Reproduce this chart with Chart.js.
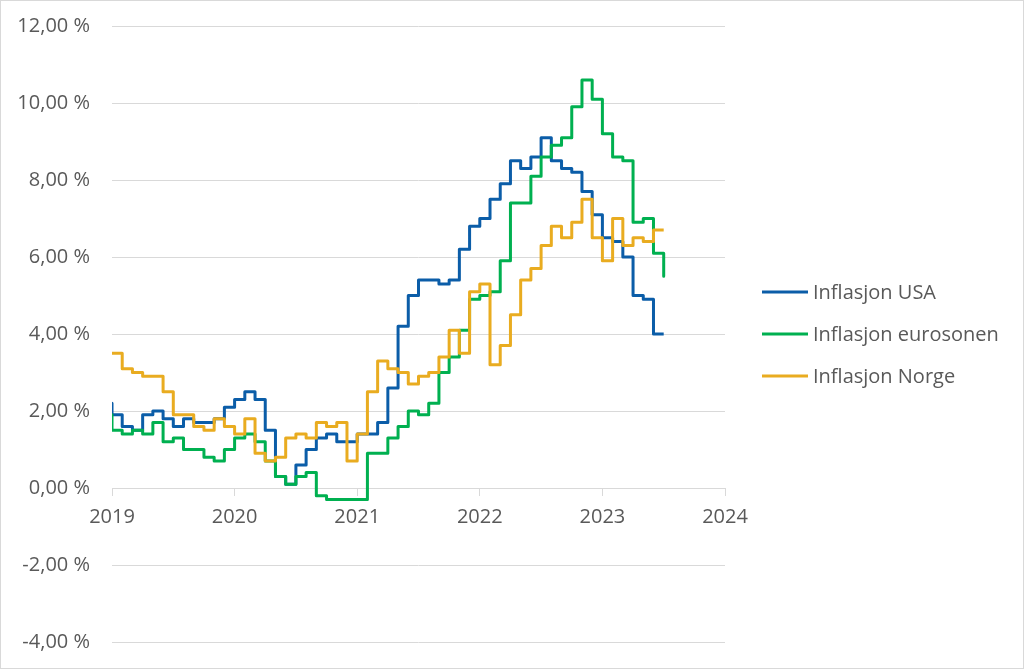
<!DOCTYPE html>
<html>
<head>
<meta charset="utf-8">
<script src="https://cdn.jsdelivr.net/npm/chart.js@4/dist/chart.umd.min.js"></script>
<style>
  html, body { margin: 0; padding: 0; background: #fff; }
  #wrap { width: 1024px; height: 669px; }
</style>
</head>
<body>
<div id="wrap"><canvas id="inflChart" width="1024" height="669"></canvas></div>
<script>
// monthly 12-month inflation, from Nov 2018 (first value only sets the starting step)
const months = [
  '2018-11', '2018-12',
  '2019-01', '2019-02', '2019-03', '2019-04', '2019-05', '2019-06', '2019-07', '2019-08', '2019-09', '2019-10', '2019-11', '2019-12',
  '2020-01', '2020-02', '2020-03', '2020-04', '2020-05', '2020-06', '2020-07', '2020-08', '2020-09', '2020-10', '2020-11', '2020-12',
  '2021-01', '2021-02', '2021-03', '2021-04', '2021-05', '2021-06', '2021-07', '2021-08', '2021-09', '2021-10', '2021-11', '2021-12',
  '2022-01', '2022-02', '2022-03', '2022-04', '2022-05', '2022-06', '2022-07', '2022-08', '2022-09', '2022-10', '2022-11', '2022-12',
  '2023-01', '2023-02', '2023-03', '2023-04', '2023-05', '2023-06'
];
const usa = [
  2.2, 1.9,
  1.6, 1.5, 1.9, 2.0, 1.8, 1.6, 1.8, 1.7, 1.7, 1.8, 2.1, 2.3,
  2.5, 2.3, 1.5, 0.3, 0.1, 0.6, 1.0, 1.3, 1.4, 1.2, 1.2, 1.4,
  1.4, 1.7, 2.6, 4.2, 5.0, 5.4, 5.4, 5.3, 5.4, 6.2, 6.8, 7.0,
  7.5, 7.9, 8.5, 8.3, 8.6, 9.1, 8.5, 8.3, 8.2, 7.7, 7.1, 6.5,
  6.4, 6.0, 5.0, 4.9, 4.0, null
];
const euro = [
  1.9, 1.5,
  1.4, 1.5, 1.4, 1.7, 1.2, 1.3, 1.0, 1.0, 0.8, 0.7, 1.0, 1.3,
  1.4, 1.2, 0.7, 0.3, 0.1, 0.3, 0.4, -0.2, -0.3, -0.3, -0.3, -0.3,
  0.9, 0.9, 1.3, 1.6, 2.0, 1.9, 2.2, 3.0, 3.4, 4.1, 4.9, 5.0,
  5.1, 5.9, 7.4, 7.4, 8.1, 8.6, 8.9, 9.1, 9.9, 10.6, 10.1, 9.2,
  8.6, 8.5, 6.9, 7.0, 6.1, 5.5
];
const norge = [
  3.5, 3.5,
  3.1, 3.0, 2.9, 2.9, 2.5, 1.9, 1.9, 1.6, 1.5, 1.8, 1.6, 1.4,
  1.8, 0.9, 0.7, 0.8, 1.3, 1.4, 1.3, 1.7, 1.6, 1.7, 0.7, 1.4,
  2.5, 3.3, 3.1, 3.0, 2.7, 2.9, 3.0, 3.4, 4.1, 3.5, 5.1, 5.3,
  3.2, 3.7, 4.5, 5.4, 5.7, 6.3, 6.8, 6.5, 6.9, 7.5, 6.5, 5.9,
  7.0, 6.3, 6.5, 6.4, 6.7, null
];
const seriesNames = ['Inflasjon USA', 'Inflasjon eurosonen', 'Inflasjon Norge'];
const seriesColors = ['#0B5DA8', '#00B050', '#E9AC20'];
const yTicks = [-4, -2, 0, 2, 4, 6, 8, 10, 12];
const xYears = [2019, 2020, 2021, 2022, 2023, 2024];

// each month's value runs from the start of the following month (as in the excel sheet)
function monthStart(m) {
    const p = m.split('-');
    return Number(p[0]) + Number(p[1]) / 12;
}

// step line built the excel way: two points per date
function stepPoints(vals) {
    const pts = [];
    for (let i = 1; i < months.length; i++) {
        const t = monthStart(months[i]);
        if (vals[i - 1] != null) pts.push({x: t, y: vals[i - 1]});
        if (vals[i] != null) pts.push({x: t, y: vals[i]});
    }
    return pts;
}

const allSeries = [usa, euro, norge];
const txt = '#595959';
const grid = '#D9D9D9';
const fontFam = '"Open Sans", "Noto Sans", sans-serif';

const sideLegend = {
    id: 'sideLegend',
    afterDraw(chart) {
        const ctx = chart.ctx;
        const mid = (chart.chartArea.top + chart.chartArea.bottom) / 2;
        ctx.save();
        ctx.font = '20px ' + fontFam;
        ctx.textBaseline = 'middle';
        ctx.fillStyle = txt;
        seriesNames.forEach(function (name, i) {
            const y = mid - 42 + i * 42;
            ctx.strokeStyle = seriesColors[i];
            ctx.lineWidth = 3;
            ctx.beginPath();
            ctx.moveTo(762, y);
            ctx.lineTo(808, y);
            ctx.stroke();
            ctx.fillText(name, 813, y + 1);
        });
        ctx.strokeStyle = grid;
        ctx.lineWidth = 1;
        ctx.strokeRect(0.5, 0.5, chart.width - 1, chart.height - 1);
        ctx.restore();
    }
};

const ctx = document.getElementById('inflChart').getContext('2d');
const myChart = new Chart(ctx, {
    type: 'line',
    data: {
        datasets: allSeries.map(function (vals, i) {
            return {
                label: seriesNames[i],
                data: stepPoints(vals),
                borderColor: seriesColors[i],
                backgroundColor: seriesColors[i],
                borderWidth: 3,
                borderJoinStyle: 'round',
                pointRadius: 0,
                tension: 0,
                fill: false,
                order: 3 - i
            };
        })
    },
    options: {
        responsive: false,
        devicePixelRatio: 1,
        animation: false,
        layout: {padding: {left: 0, right: 299, top: 26, bottom: 27}},
        plugins: {legend: {display: false}, tooltip: {enabled: false}},
        scales: {
            y: {
                min: -4,
                max: 12,
                afterBuildTicks: function (s) { s.ticks = yTicks.map(function (v) { return {value: v}; }); },
                afterFit: function (s) {
                    s.width = 112;
                    s.paddingTop = 0;
                    s.paddingBottom = 0;
                },
                ticks: {
                    color: txt,
                    padding: 22,
                    font: {family: fontFam, size: 20},
                    callback: function (v) { return v.toFixed(2).replace('.', ',') + ' %'; }
                },
                grid: {color: grid, lineWidth: 1, drawTicks: false},
                border: {display: false}
            },
            x: {
                type: 'linear',
                position: {y: 0},
                min: 2019,
                max: 2024,
                afterBuildTicks: function (s) { s.ticks = xYears.map(function (v) { return {value: v}; }); },
                ticks: {
                    color: txt,
                    padding: 10,
                    font: {family: fontFam, size: 20},
                    callback: function (v) { return String(v); }
                },
                grid: {drawOnChartArea: false, drawTicks: true, tickLength: 7, color: grid},
                border: {display: true, color: grid, width: 1}
            }
        }
    },
    plugins: [sideLegend]
});
</script>
</body>
</html>
